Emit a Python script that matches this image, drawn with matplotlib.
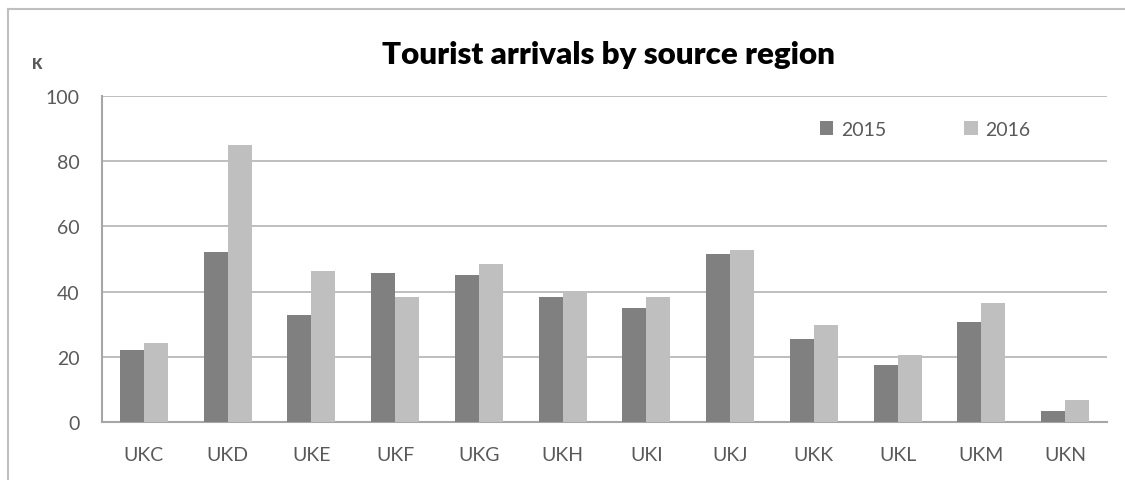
import numpy as np
import matplotlib.pyplot as plt
from matplotlib.lines import Line2D

regions = ["UKC", "UKD", "UKE", "UKF", "UKG", "UKH",
           "UKI", "UKJ", "UKK", "UKL", "UKM", "UKN"]
arrivals_2015 = [22.0, 52.2, 32.7, 45.7, 45.1, 38.2, 35.0, 51.5, 25.4, 17.6, 30.7, 3.3]
arrivals_2016 = [24.2, 84.9, 46.3, 38.2, 48.4, 39.7, 38.2, 52.8, 29.8, 20.6, 36.5, 6.6]
y_ticks = [0, 20, 40, 60, 80, 100]

W, H = 1125, 481
FONT = "Lato"
TXT = "#595959"

fig = plt.figure(figsize=(W / 100, H / 100), dpi=100)
ax = fig.add_axes([102 / W, 1 - 423 / H, (1107 - 102) / W, (423 - 97) / H])

x = np.arange(len(regions))
w = 0.287
b15 = ax.bar(x - w / 2, arrivals_2015, w, color="#808080", label="2015", zorder=3)
b16 = ax.bar(x + w / 2, arrivals_2016, w, color="#bfbfbf", label="2016", zorder=3)

ax.set_xlim(-0.5, len(regions) - 0.5)
ax.set_ylim(0, 100)
ax.set_yticks(y_ticks)
ax.set_xticks(x)
ax.set_xticklabels(regions)
ax.yaxis.grid(True, color="#b3b3b3", linewidth=1.2, zorder=0)
ax.set_axisbelow(True)
for s in ["top", "right"]:
    ax.spines[s].set_visible(False)
for s in ["left", "bottom"]:
    ax.spines[s].set_color("#a6a6a6")
    ax.spines[s].set_linewidth(1.5)
ax.tick_params(length=0, colors=TXT, labelsize=14)
ax.tick_params(axis="y", pad=16)
ax.tick_params(axis="x", pad=17)
for lab in ax.get_xticklabels() + ax.get_yticklabels():
    lab.set_fontfamily(FONT)

fig.text(609 / W, 1 - 55 / H, "Tourist arrivals by source region",
         ha="center", va="center", fontsize=22.5, fontweight="heavy",
         family=FONT, color="black")
fig.text(37 / W, 1 - 65 / H, "K", ha="center", va="center",
         fontsize=10.5, fontweight="heavy", family=FONT, color=TXT)

leg = ax.legend(handles=[b15, b16], ncol=2, frameon=False,
                loc="center", bbox_to_anchor=(925 / W, 1 - 130 / H),
                bbox_transform=fig.transFigure,
                handlelength=0.7, handleheight=0.7, handletextpad=0.4,
                columnspacing=4.0, prop={"family": FONT, "size": 14})
for t in leg.get_texts():
    t.set_color(TXT)

# chart frame (top and left edges only are visible)
fig.add_artist(Line2D([8 / W, 8 / W], [0, 1 - 10 / H],
                      transform=fig.transFigure, color="#bfbfbf", linewidth=1.5))
fig.add_artist(Line2D([8 / W, 1], [1 - 10 / H, 1 - 10 / H],
                      transform=fig.transFigure, color="#bfbfbf", linewidth=1.5))

fig.savefig("out.png", dpi=100)
